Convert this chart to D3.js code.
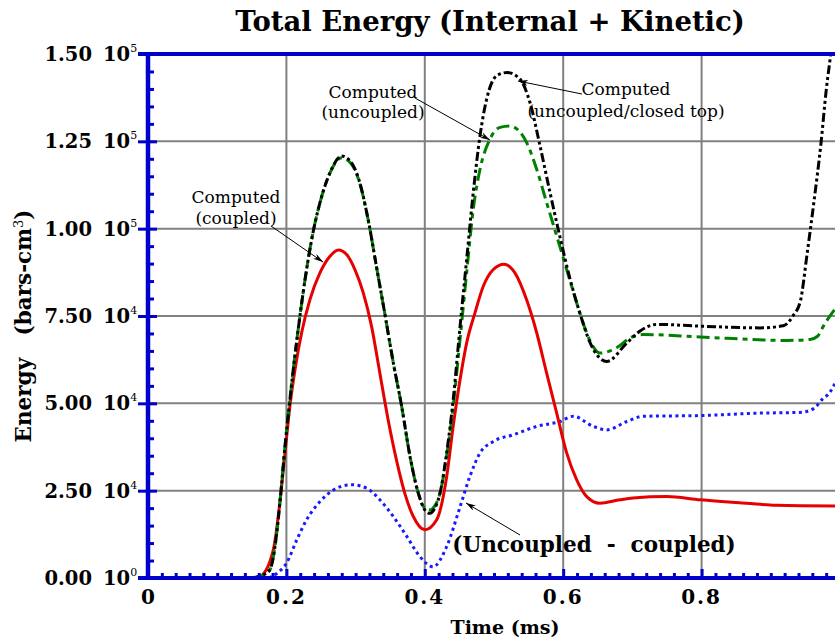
<!DOCTYPE html>
<html><head><meta charset="utf-8">
<script src="https://cdn.jsdelivr.net/npm/d3@7"></script>
<style>html,body{margin:0;padding:0;background:#fff;} svg{display:block;}</style>
</head><body>
<svg id="chart" width="835" height="642"></svg>
<script>
// ---- data (time in ms, energy in bars-cm^3) ----
const closedTopTime = [0.15,0.162,0.176,0.1835,0.191,0.198,0.205,0.217,0.227,0.2365,0.2486,0.263,0.28,0.294,0.306,0.318,0.330,0.342,0.3545,0.3666,0.3786,0.3906,0.40,0.4075,0.414,0.422,0.4316,0.441,0.451,0.4605,0.470,0.4798,0.4894,0.504,0.519,0.5376,0.552,0.5665,0.581,0.595,0.61,0.624,0.639,0.663,0.692,0.711,0.735,0.798,0.884,0.918,0.9326,0.9427,0.9526,0.9624,0.9726,0.980,0.9866,0.995];
const closedTopEnergy = [0,500,2300,9000,22400,37700,51000,71100,85500,96900,107500,116000,120800,118900,113200,102700,89300,75900,61600,49100,34800,24300,19500,18500,19800,24300,35800,51000,72100,91200,110300,126600,137100,143800,144700,142800,136100,123700,110300,97900,85500,75900,67300,62000,67300,70700,72600,72100,71600,72200,75200,79200,93000,107800,124600,139500,150000,165000];

const uncoupledTime = [0.15,0.162,0.176,0.1835,0.191,0.198,0.205,0.217,0.227,0.2365,0.2486,0.263,0.28,0.294,0.306,0.318,0.330,0.342,0.3545,0.3666,0.3786,0.3906,0.40,0.4075,0.414,0.422,0.4316,0.441,0.451,0.4605,0.470,0.4798,0.494,0.5087,0.523,0.547,0.5617,0.576,0.595,0.61,0.624,0.639,0.653,0.677,0.6965,0.716,0.798,0.923,0.9566,0.9676,0.976,0.9827,0.997];
const uncoupledEnergy = [0,500,2300,9000,22400,37700,51000,71100,85500,96900,107500,116000,120300,118500,113000,102700,89300,75900,61600,49100,34800,24300,20000,19500,20500,24300,35000,49000,68500,87400,105500,117000,125600,129000,129400,124700,117000,107500,95000,85000,75900,67800,64400,65900,68700,69700,69000,68000,68300,69200,72100,74200,78100];

const coupledTime = [0.15,0.162,0.181,0.191,0.198,0.205,0.2124,0.222,0.234,0.2486,0.263,0.275,0.287,0.299,0.311,0.323,0.335,0.347,0.359,0.371,0.3834,0.40,0.417,0.4316,0.441,0.451,0.4605,0.4725,0.4845,0.499,0.5145,0.530,0.547,0.5617,0.576,0.5906,0.605,0.6195,0.634,0.653,0.682,0.701,0.7495,0.798,0.865,0.9075,1.0];
const coupledEnergy = [0,500,8000,22400,35800,49100,59600,70200,79700,87400,92100,93900,92600,88300,81700,72100,58700,45300,33800,24300,17600,13800,16600,29000,43400,56800,67300,75900,83500,88300,89800,87400,79700,70200,58700,47200,35800,28100,23300,21400,22400,22900,23300,22400,21400,20800,20600];

const diffTime = [0.175,0.186,0.2,0.215,0.229,0.2486,0.268,0.294,0.316,0.335,0.3545,0.374,0.393,0.412,0.4316,0.451,0.465,0.4798,0.499,0.528,0.5617,0.595,0.6146,0.6435,0.663,0.692,0.716,0.798,0.884,0.942,0.962,0.976,0.9827,0.997];
const diffEnergy = [0,1300,4200,10900,16600,21900,25200,26700,25700,22400,17600,11900,6100,3200,9000,20400,29000,35800,39100,41000,43400,44800,46300,43400,42400,44800,46300,46500,47200,47400,48500,51500,52500,57400];

const xTicks = [0,0.2,0.4,0.6,0.8,1.0];
const xTickLabels = ["0","0.2","0.4","0.6","0.8","1"];
const yTicks = [0,25000,50000,75000,100000,125000,150000];
const yTickMantissa = ["0.00","2.50","5.00","7.50","1.00","1.25","1.50"];
const yTickExponent = ["0","4","4","4","5","5","5"];

const titleText = "Total Energy (Internal + Kinetic)";
const xTitle = "Time (ms)";

// ---- layout ----
const svg = d3.select("#chart");
const W = 835, H = 642;
const L = 148, R = 840, T = 54, B = 578;
const x = d3.scaleLinear().domain([0,1]).range([L,R]);
const y = d3.scaleLinear().domain([0,150000]).range([B,T]);
const axisBlue = "#0000cd";
const serif = "'DejaVu Serif', 'Liberation Serif', serif";

svg.append("defs").append("clipPath").attr("id","plot")
  .append("rect").attr("x",L).attr("y",T).attr("width",W-L).attr("height",B-T);
svg.select("defs").append("marker").attr("id","arrow")
  .attr("viewBox","0 0 10 6").attr("refX",10).attr("refY",3)
  .attr("markerWidth",10).attr("markerHeight",6).attr("markerUnits","userSpaceOnUse")
  .attr("orient","auto")
  .append("path").attr("d","M0,0 L10,3 L0,6 L3,3 Z").attr("fill","#000");

// grid
const grid = svg.append("g");
grid.selectAll(".gx").data(xTicks.filter(d=>d>0)).enter().append("line")
  .attr("x1",d=>x(d)).attr("x2",d=>x(d)).attr("y1",T).attr("y2",B)
  .attr("stroke","#808080").attr("stroke-width",2);
grid.selectAll(".gy").data(yTicks.filter(d=>d>0 && d<150000)).enter().append("line")
  .attr("x1",L).attr("x2",W).attr("y1",d=>y(d)).attr("y2",d=>y(d))
  .attr("stroke","#808080").attr("stroke-width",2);

// series
const line = d3.line().x(d=>x(d[0])).y(d=>y(d[1])).curve(d3.curveMonotoneX);
const series = [
  {t:diffTime, v:diffEnergy, color:"#1a1aff", dash:"3,3.5", w:3},
  {t:coupledTime, v:coupledEnergy, color:"#e60000", dash:null, w:3},
  {t:uncoupledTime, v:uncoupledEnergy, color:"#008000", dash:"13,5,5,5", w:3},
  {t:closedTopTime, v:closedTopEnergy, color:"#000000", dash:"9,3,3,3,3,3", w:3}
];
const plotG = svg.append("g").attr("clip-path","url(#plot)");
series.forEach(s=>{
  plotG.append("path").datum(s.t.map((t,i)=>[t,s.v[i]]))
    .attr("d",line).attr("fill","none").attr("stroke",s.color)
    .attr("stroke-width",s.w).attr("stroke-dasharray",s.dash)
    .attr("stroke-linejoin","round");
});

// axes: left
const minorY = d3.range(0,150001,5000).filter(v=>v%25000!==0);
const leftMinor = d3.axisLeft(y).tickValues(minorY).tickSize(-6).tickFormat("");
const leftMajorOut = d3.axisLeft(y).tickValues(yTicks).tickSize(10).tickFormat("");
const leftMajorIn = d3.axisLeft(y).tickValues(yTicks).tickSize(-9).tickFormat("");
[leftMinor,leftMajorOut,leftMajorIn].forEach(a=>{
  const g = svg.append("g").attr("transform",`translate(${L},0)`).call(a);
  g.select(".domain").remove();
  g.selectAll("line").attr("stroke",axisBlue).attr("stroke-width",3);
});
// bottom
const minorX = d3.range(0,1.0001,0.02).filter(v=>Math.abs(v*5-Math.round(v*5))>1e-6);
const botMinor = d3.axisBottom(x).tickValues(minorX).tickSize(-5).tickFormat("");
const botMajor = d3.axisBottom(x).tickValues(xTicks).tickSize(-9).tickFormat("");
[botMinor,botMajor].forEach(a=>{
  const g = svg.append("g").attr("transform",`translate(0,${B})`).call(a);
  g.select(".domain").remove();
  g.selectAll("line").attr("stroke",axisBlue).attr("stroke-width",3);
});
// axis lines
svg.append("line").attr("x1",L).attr("x2",L).attr("y1",T-2).attr("y2",B+2).attr("stroke",axisBlue).attr("stroke-width",4.5);
svg.append("line").attr("x1",L-10).attr("x2",W).attr("y1",B).attr("y2",B).attr("stroke",axisBlue).attr("stroke-width",4);
svg.append("line").attr("x1",L-10).attr("x2",W).attr("y1",T).attr("y2",T).attr("stroke",axisBlue).attr("stroke-width",4);

// y tick labels
const yl = svg.append("g").attr("font-family",serif).attr("font-weight","bold").attr("fill","#000");
yTicks.forEach((v,i)=>{
  const t = yl.append("text").attr("y",y(v)+7).attr("font-size",19.5);
  t.append("tspan").attr("x",92).attr("text-anchor","end").text(yTickMantissa[i]);
  t.append("tspan").attr("x",103).attr("text-anchor","start").text("10");
  t.append("tspan").attr("dy",-9).attr("font-size",11).attr("font-weight","normal").text(yTickExponent[i]);
});
// x tick labels
const xl = svg.append("g").attr("font-family",serif).attr("font-weight","bold").attr("font-size",20);
xTicks.forEach((v,i)=>{
  xl.append("text").attr("x",x(v)).attr("y",604).attr("text-anchor","middle")
    .attr("letter-spacing", xTickLabels[i].length>1 ? "2px" : "0").text(xTickLabels[i]);
});
// titles
svg.append("text").attr("x",490).attr("y",31).attr("text-anchor","middle")
  .attr("font-family",serif).attr("font-weight","bold").attr("font-size",27.5).text(titleText);
svg.append("text").attr("x",505).attr("y",634).attr("text-anchor","middle")
  .attr("font-family",serif).attr("font-weight","bold").attr("font-size",19).text(xTitle);
const yt = svg.append("text").attr("transform","translate(31,326) rotate(-90)").attr("text-anchor","middle")
  .attr("font-family",serif).attr("font-weight","bold").attr("font-size",21.5)
  .attr("xml:space","preserve");
yt.append("tspan").text("Energy   (bars-cm");
yt.append("tspan").attr("dy",-8).attr("font-size",13).attr("font-weight","normal").text("3");
yt.append("tspan").attr("dy",8).text(")");

// annotations
const ann = svg.append("g").attr("font-family",serif).attr("font-size",17).attr("fill","#000");
function label(lines, cx, y0, dy){
  lines.forEach((s,i)=>ann.append("text").attr("x",cx).attr("y",y0+i*dy).attr("text-anchor","middle").text(s));
}
function arrow(x1,y1,x2,y2){
  svg.append("line").attr("x1",x1).attr("y1",y1).attr("x2",x2).attr("y2",y2)
    .attr("stroke","#000").attr("stroke-width",1).attr("marker-end","url(#arrow)");
}
label(["Computed","(coupled)"],236,203,21);
arrow(271,226,323,262);
label(["Computed","(uncoupled)"],373,98,20);
arrow(415,98,490,140);
label(["Computed","(uncoupled/closed top)"],626,95,22);
arrow(582,94,518,81);
svg.append("text").attr("x",594).attr("y",552).attr("text-anchor","middle")
  .attr("font-family",serif).attr("font-weight","bold").attr("font-size",21.5)
  .attr("xml:space","preserve").text("(Uncoupled  -  coupled)");
arrow(520,535,466,503);
</script>
</body></html>
